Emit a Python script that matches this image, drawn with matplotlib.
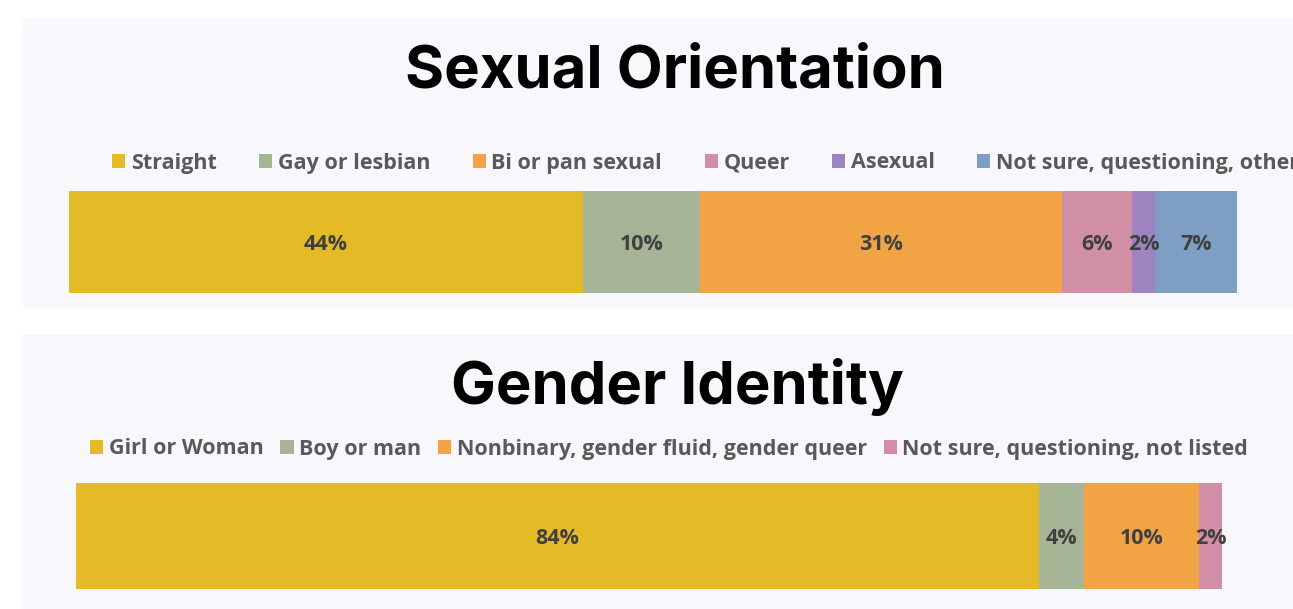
import matplotlib
matplotlib.use("Agg")
from matplotlib import pyplot as plt
from matplotlib.patches import Rectangle
import numpy as np

# --- data ---
orientation_labels = ["Straight", "Gay or lesbian", "Bi or pan sexual", "Queer",
                      "Asexual", "Not sure, questioning, other"]
orientation_values = [44, 10, 31, 6, 2, 7]
orientation_colors = ["#E4BB27", "#A4B494", "#F2A445", "#D18FA5", "#9D84C0", "#7E9EC4"]

gender_labels = ["Girl or Woman", "Boy or man", "Nonbinary, gender fluid, gender queer",
                 "Not sure, questioning, not listed"]
gender_values = [84, 4, 10, 2]
gender_colors = ["#E4BB27", "#A4B494", "#F2A445", "#D18FA5"]

W, H = 1293, 609
PANEL_BG = "#F7F7FC"
LEGEND_FONT = "Open Sans"
TITLE_FONT = "Inter"


def fx(px):
    return px / W


def fy(py):
    # pixel row from top -> figure fraction from bottom
    return 1 - py / H


fig = plt.figure(figsize=(W / 100, H / 100), dpi=100, facecolor="white")

# panel backgrounds (behind the axes)
for top, bottom in [(19, 306), (335, 609)]:
    fig.patches.append(Rectangle((fx(23), fy(bottom)), fx(W - 23), (bottom - top) / H,
                                 transform=fig.transFigure, color=PANEL_BG, zorder=-10))


def stacked_bar(rect, values, colors, labels):
    """draw one 100% stacked horizontal bar with centred percentage labels"""
    ax = fig.add_axes(rect)
    ax.set_facecolor("none")
    left = 0
    handles = []
    for v, c, lab in zip(values, colors, labels):
        b = ax.barh(0, v, left=left, height=1, color=c, label=lab, linewidth=0)
        handles.append(b)
        ax.text(left + v / 2, -0.02, f"{v}%", ha="center", va="center",
                fontsize=15.5, fontweight="bold", color="#404040", family=LEGEND_FONT)
        left += v
    ax.set_xlim(0, 100)
    ax.set_ylim(-0.5, 0.5)
    ax.axis("off")
    return handles


def legend(handles, labels, x0, yc, colspacing):
    fig.legend(handles, labels, loc="center left", bbox_to_anchor=(fx(x0), fy(yc)),
               ncol=len(labels), frameon=False, borderpad=0, borderaxespad=0,
               handlelength=0.62, handleheight=0.62, handletextpad=0.25,
               columnspacing=colspacing,
               prop={"family": LEGEND_FONT, "weight": "bold", "size": 15.5},
               labelcolor="#595959")


# Sexual orientation
h1 = stacked_bar([fx(69), fy(293), fx(1168), 102 / H],
                 orientation_values, orientation_colors, orientation_labels)
fig.text(fx(675), fy(87), "Sexual Orientation", ha="center", va="baseline",
         fontsize=43, fontweight="bold", family=TITLE_FONT, color="black")
legend(h1, orientation_labels, 112, 163, 1.97)

# Gender identity
h2 = stacked_bar([fx(76), fy(589), fx(1146), 106 / H],
                 gender_values, gender_colors, gender_labels)
fig.text(fx(677), fy(404), "Gender Identity", ha="center", va="baseline",
         fontsize=43, fontweight="bold", family=TITLE_FONT, color="black")
legend(h2, gender_labels, 90, 449, 0.78)

fig.savefig("out.png", dpi=100, facecolor="white")
